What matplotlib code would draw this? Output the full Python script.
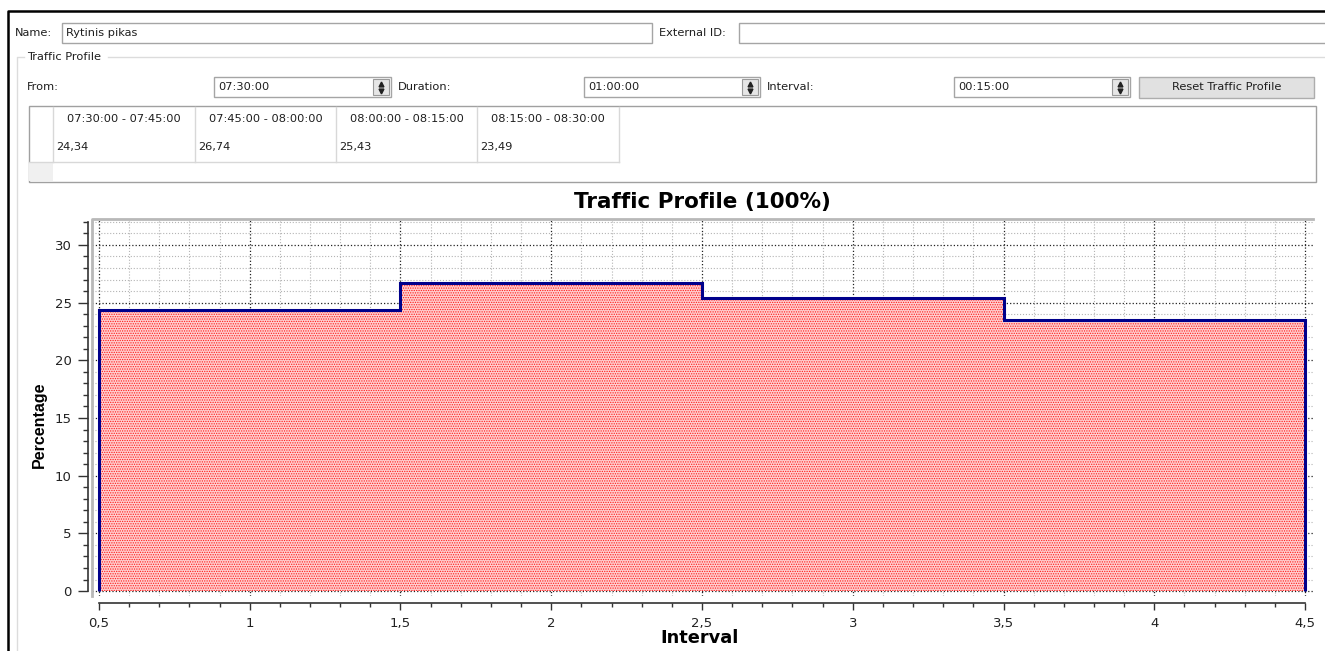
import numpy as np
import matplotlib.pyplot as plt
from matplotlib.patches import Rectangle
from matplotlib.ticker import MultipleLocator, FuncFormatter

# values from the profile table
periods = ['07:30:00 - 07:45:00', '07:45:00 - 08:00:00',
           '08:00:00 - 08:15:00', '08:15:00 - 08:30:00']
shares = [24.34, 26.74, 25.43, 23.49]
interval_no = [1, 2, 3, 4]

# form fields
profile_name = 'Rytinis pikas'
time_from = '07:30:00'
duration = '01:00:00'
step = '00:15:00'

plt.rcParams['font.family'] = ['DejaVu Sans']
plt.rcParams['hatch.linewidth'] = 0.6

W, H = 1325, 651
fig = plt.figure(figsize=(W / 100, H / 100), dpi=100)
fig.patch.set_facecolor('white')

# ---- form part, drawn on a full-figure axes in pixel units ----
ui = fig.add_axes([0, 0, 1, 1])
ui.set_xlim(0, W)
ui.set_ylim(H, 0)
ui.axis('off')

FS = 8.2


def box(x0, y0, x1, y1, fc='white', ec='#a5a5a5', lw=1.0):
    ui.add_patch(Rectangle((x0, y0), x1 - x0, y1 - y0, facecolor=fc,
                           edgecolor=ec, lw=lw))


def label(x, y, s, **kw):
    ui.text(x, y, s, fontsize=FS, va='center', color='#1e1e1e', **kw)


def spinbox(x0, x1, y0, y1, txt):
    box(x0, y0, x1, y1)
    label(x0 + 4, (y0 + y1) / 2, txt)
    box(x1 - 18, y0 + 2, x1 - 2, y1 - 2, fc='#e6e6e6', ec='#9a9a9a', lw=0.8)
    ui.plot(x1 - 10, y0 + 6.5, marker='^', ms=3.5, color='#222222')
    ui.plot(x1 - 10, y1 - 6.5, marker='v', ms=3.5, color='#222222')


# window border
ui.plot([8, 8, W], [H, 11, 11], color='black', lw=1.8)

# name / external id row
label(15, 33, 'Name:')
box(62, 23, 652, 43)
label(66, 33, profile_name)
label(659, 33, 'External ID:')
box(739, 23, W + 5, 43)

# group box
ui.plot([24, 17, 17], [57, 57, H], color='#dcdcdc', lw=1)
ui.plot([108, W], [57, 57], color='#dcdcdc', lw=1)
label(27, 57, 'Traffic Profile')

# from / duration / interval row
label(27, 87, 'From:')
spinbox(214, 391, 77, 97, time_from)
label(398, 87, 'Duration:')
spinbox(584, 760, 77, 97, duration)
label(767, 87, 'Interval:')
spinbox(954, 1130, 77, 97, step)
box(1139, 77, 1314, 98, fc='#e1e1e1', ec='#adadad')
ui.text((1139 + 1314) / 2, 87.5, 'Reset Traffic Profile', fontsize=FS,
        ha='center', va='center', color='#1e1e1e')

# table
box(29, 106, 1316, 182, ec='#a0a0a0')
box(29, 162, 53, 181, fc='#f0f0f0', ec='none')
col_edges = [53, 195, 336, 477, 619]
for xe in col_edges:
    ui.plot([xe, xe], [107, 162], color='#d8d8d8', lw=1)
ui.plot([29, col_edges[-1]], [162, 162], color='#d8d8d8', lw=1)
for i, (p, v) in enumerate(zip(periods, shares)):
    xa, xb = col_edges[i], col_edges[i + 1]
    ui.text((xa + xb) / 2, 119, p, fontsize=FS, ha='center', va='center',
            color='#1e1e1e')
    label(xa + 3, 147, f'{v:.2f}'.replace('.', ','))

# ---- chart ----
ax = fig.add_axes([92 / W, 1 - 596 / H, (1313 - 92) / W, (596 - 219) / H])
ax.set_facecolor('white')

edges = np.append(np.array(interval_no) - 0.5, interval_no[-1] + 0.5)
ax.stairs(shares, edges, baseline=0, fill=True, facecolor='#ffcfcf',
          edgecolor='#ff1a1a', lw=0, hatch='.......', zorder=2)
ax.stairs(shares, edges, baseline=0, color='#00008b', lw=2.2, zorder=3)

ax.set_xlim(0.4768, 4.5265)
ax.set_ylim(-0.43, 32.25)

ax.xaxis.set_major_locator(MultipleLocator(0.5))
ax.xaxis.set_minor_locator(MultipleLocator(0.1))
ax.yaxis.set_major_locator(MultipleLocator(5))
ax.yaxis.set_minor_locator(MultipleLocator(1))
comma = FuncFormatter(lambda v, p: f'{v:g}'.replace('.', ','))
ax.xaxis.set_major_formatter(comma)
ax.yaxis.set_major_formatter(comma)

ax.set_axisbelow(True)
ax.grid(which='major', color='#222222', ls=':', lw=0.9)
ax.grid(which='minor', color='#b4b4b4', ls=':', lw=0.8)

for s in ['top', 'right']:
    ax.spines[s].set_visible(False)
ax.spines['left'].set_position(('outward', 3))
ax.spines['left'].set_bounds(0, 32)
ax.spines['bottom'].set_position(('outward', 5))
ax.spines['bottom'].set_bounds(0.5, 4.5)
for s in ['left', 'bottom']:
    ax.spines[s].set_color('#333333')
    ax.spines[s].set_linewidth(1.2)

# canvas frame
ax.plot([0, 0, 1], [0, 1, 1], transform=ax.transAxes, color='#b8b8b8',
        lw=2, clip_on=False, zorder=4)

ax.tick_params(axis='y', which='major', length=7.5, width=1, color='#333333',
               labelsize=9.5, labelcolor='#222222', pad=4)
ax.tick_params(axis='y', which='minor', length=3.8, width=1, color='#333333')
ax.tick_params(axis='x', which='major', length=5, width=1, color='#333333',
               labelsize=9.5, labelcolor='#222222', pad=5)
ax.tick_params(axis='x', which='minor', length=3, width=1, color='#333333')

ax.set_title('Traffic Profile (100%)', fontsize=15.5, fontweight='bold',
             y=1.045, pad=0, va='center')
ax.set_xlabel('Interval', fontsize=12.8, fontweight='bold')
ax.set_ylabel('Percentage', fontsize=11.5, fontweight='bold',
              family=['Liberation Sans', 'DejaVu Sans'])
ax.xaxis.set_label_coords(0.498, -0.111)
ax.yaxis.set_label_coords(-0.043, 0.455)
ax.xaxis.label.set_va('center')
ax.yaxis.label.set_va('center')

fig.savefig('out.png', dpi=100)
